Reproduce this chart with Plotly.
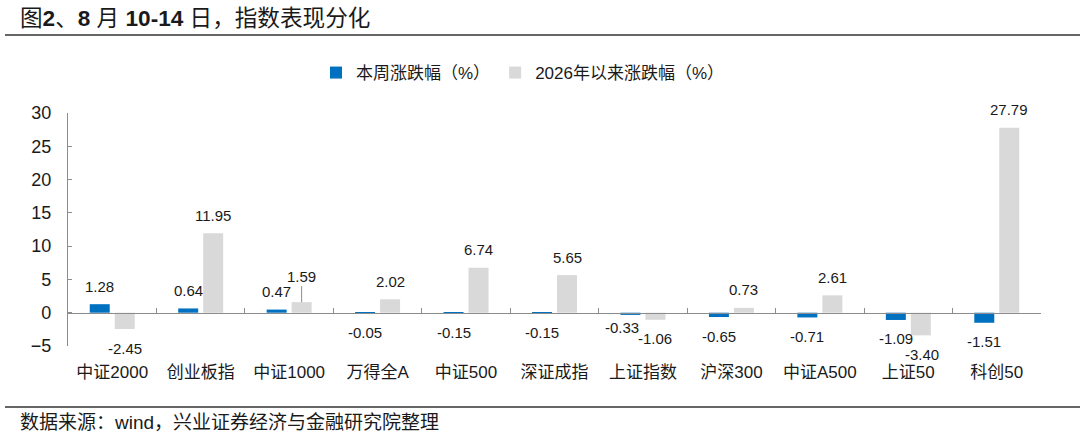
import plotly.graph_objects as go

categories = ["中证2000", "创业板指", "中证1000", "万得全A", "中证500", "深证成指",
              "上证指数", "沪深300", "中证A500", "上证50", "科创50"]
week_chg = [1.28, 0.64, 0.47, -0.05, -0.15, -0.15, -0.33, -0.65, -0.71, -1.09, -1.51]
ytd_chg = [-2.45, 11.95, 1.59, 2.02, 6.74, 5.65, -1.06, 0.73, 2.61, -3.40, 27.79]
series_names = ["本周涨跌幅（%）", "2026年以来涨跌幅（%）"]
y_ticks = [-5, 0, 5, 10, 15, 20, 25, 30]

BLUE = "#0070C0"
GREY = "#D9D9D9"
AXIS = "#8C8C8C"
TXT = "#1a1a1a"
FONT = "Liberation Sans, Arial, Noto Sans CJK SC, sans-serif"

W, H = 1080, 439
ML, MR, MT, MB = 68, 39, 113, 93
plot_h = H - MT - MB
plot_w = W - ML - MR
y_min, y_max = -5, 30
x_range = [-0.5, len(categories) - 0.5]

def paper_y(px):
    return (H - MB - px) / plot_h

def paper_x(px):
    return (px - ML) / plot_w

fig = go.Figure()
fig.add_trace(go.Bar(x=categories, y=week_chg, name=series_names[0],
                     marker=dict(color=BLUE, line=dict(width=0))))
fig.add_trace(go.Bar(x=categories, y=ytd_chg, name=series_names[1],
                     marker=dict(color=GREY, line=dict(width=0))))
# helper trace for the zero-line axis with boundary ticks
fig.add_trace(go.Scatter(x=categories, y=[0] * len(categories), xaxis="x2",
                         mode="markers", marker=dict(opacity=0),
                         showlegend=False, hoverinfo="skip"))

ann = []
half = 12.5
for i, cat in enumerate(categories):
    for vals, sh in ((week_chg, -half), (ytd_chg, half)):
        v = vals[i]
        ys = 18 if v >= 0 else -19
        xs = sh
        a = dict(x=cat, y=v, xref="x", yref="y", text=f"{v:.2f}",
                 showarrow=False, xshift=xs, yshift=ys,
                 font=dict(size=15, color=TXT, family=FONT))
        if vals is ytd_chg and i == 2:
            a = dict(x=cat, y=v, xref="x", yref="y", text=f"{v:.2f}",
                     showarrow=True, arrowhead=0, arrowwidth=1, arrowcolor=AXIS,
                     ax=0, ay=-26, xshift=xs,
                     font=dict(size=15, color=TXT, family=FONT))
        if vals is week_chg and i == 6:
            a["xshift"] = -21
            a["yshift"] = -13
        if vals is ytd_chg and i == 9:
            a["xshift"] = 14
        ann.append(a)

ann.append(dict(x=paper_x(18), y=paper_y(422), xref="paper", yref="paper",
                xanchor="left", yanchor="middle", showarrow=False,
                text="数据来源：wind，兴业证券经济与金融研究院整理",
                font=dict(size=19, color=TXT, family=FONT)))

shapes = [
    dict(type="line", xref="paper", yref="paper", x0=paper_x(5), x1=paper_x(1080),
         y0=paper_y(35), y1=paper_y(35), line=dict(color="#333333", width=1.3)),
    dict(type="line", xref="paper", yref="paper", x0=paper_x(5), x1=paper_x(1080),
         y0=paper_y(407), y1=paper_y(407), line=dict(color="#666666", width=2)),
]

fig.update_layout(
    width=W, height=H,
    margin=dict(l=ML, r=MR, t=MT, b=MB, autoexpand=False),
    paper_bgcolor="white", plot_bgcolor="white",
    font=dict(family=FONT, color=TXT),
    barmode="group", bargap=0.435, bargroupgap=0.2,
    title=dict(text="图<b>2</b>、<b>8</b> 月 <b>10-14</b> 日，指数表现分化",
               x=20 / W, xanchor="left", xref="container",
               y=1 - 18 / H, yanchor="middle", yref="container",
               font=dict(size=22.6, color=TXT, family=FONT)),
    legend=dict(orientation="h", x=paper_x(316), xanchor="left", y=paper_y(73),
                yanchor="middle", font=dict(size=17, color=TXT, family=FONT),
                bgcolor="rgba(0,0,0,0)", traceorder="normal"),
    xaxis=dict(type="category", range=x_range, showline=False, ticks="",
               showgrid=False, zeroline=False,
               tickfont=dict(size=17, color=TXT, family=FONT),
               ticklabelstandoff=14, automargin=False),
    xaxis2=dict(type="category", overlaying="x", matches="x", anchor="free",
                position=(0 - y_min) / (y_max - y_min), showline=True,
                linecolor=AXIS, linewidth=1.3, ticks="inside", tickson="boundaries",
                ticklen=5, tickcolor=AXIS, showticklabels=False, showgrid=False,
                zeroline=False, automargin=False),
    yaxis=dict(range=[y_min, y_max], tickvals=y_ticks, showline=True,
               linecolor=AXIS, linewidth=1.3, ticks="inside", ticklen=4,
               tickcolor=AXIS, showgrid=False, zeroline=False,
               tickfont=dict(size=18, color=TXT, family=FONT),
               ticklabelstandoff=12, automargin=False),
    annotations=ann,
    shapes=shapes,
)

fig.write_html("out.html", config={"displayModeBar": False},
               post_script="document.body.style.margin='0';document.body.style.overflow='hidden';")
